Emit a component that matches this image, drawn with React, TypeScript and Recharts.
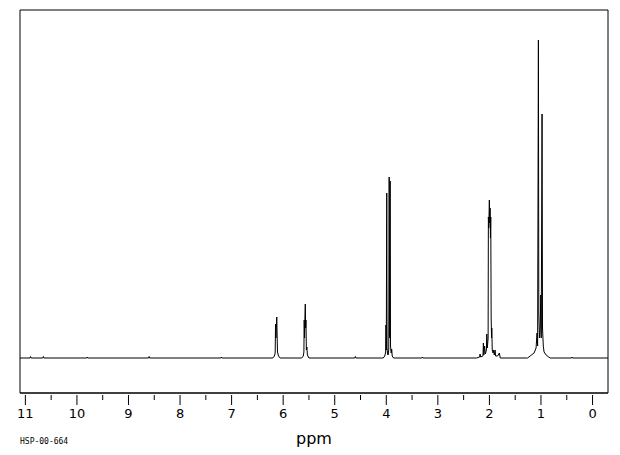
import React from "react";
import { LineChart, Line, XAxis, YAxis, Label, ReferenceArea } from "recharts";

// spectrum: [ppm, intensity], baseline = 0
const baselineEnds: [number, number][] = [[11.104, 0], [-0.3, 0]];

const noiseBlips: [number, number][] = [
  [10.91, 0], [10.9, 1.5], [10.89, 0],
  [10.66, 0], [10.65, 1.5], [10.64, 0],
  [9.81, 0], [9.8, 1], [9.79, 0],
  [8.61, 0], [8.6, 1.5], [8.59, 0],
  [7.21, 0], [7.2, 1], [7.19, 0],
  [4.61, 0], [4.6, 1.5], [4.59, 0],
  [3.31, 0], [3.3, 1], [3.29, 0],
  [0.41, 0], [0.4, 1], [0.39, 0],
];

const vinylA: [number, number][] = [
  [6.2, 0], [6.17, 2], [6.155, 5], [6.148, 34], [6.14, 20], [6.133, 30],
  [6.124, 41], [6.118, 25], [6.11, 6], [6.09, 2], [6.06, 0],
];

const vinylB: [number, number][] = [
  [5.64, 0], [5.61, 2], [5.598, 6], [5.592, 38], [5.585, 20], [5.578, 40],
  [5.571, 54], [5.565, 30], [5.558, 38], [5.55, 8], [5.54, 11], [5.53, 3], [5.5, 0],
];

const ochDoublet: [number, number][] = [
  [4.06, 0], [4.03, 2], [4.012, 6], [4.006, 33], [4.0, 8], [3.991, 165],
  [3.985, 10], [3.975, 4], [3.965, 3], [3.952, 8], [3.944, 181], [3.935, 20],
  [3.925, 177], [3.918, 12], [3.905, 5], [3.895, 9], [3.885, 2], [3.86, 0],
];

const methylCH: [number, number][] = [
  [2.25, 0], [2.19, 1], [2.181, 4], [2.17, 1], [2.125, 2], [2.117, 15],
  [2.108, 3], [2.094, 12], [2.08, 4], [2.058, 8], [2.051, 24], [2.04, 10],
  [2.025, 20], [2.02, 141], [2.012, 130], [2.001, 158], [1.994, 135],
  [1.987, 150], [1.98, 120], [1.974, 141], [1.966, 40], [1.958, 20],
  [1.954, 30], [1.945, 8], [1.93, 5], [1.92, 8], [1.905, 3], [1.89, 8],
  [1.88, 2], [1.84, 2], [1.807, 5], [1.79, 0],
];

const isoDoublet: [number, number][] = [
  [1.26, 0], [1.21, 2], [1.134, 5], [1.095, 10], [1.076, 25], [1.065, 12],
  [1.05, 318], [1.042, 45], [1.03, 20], [1.015, 30], [1.004, 63], [0.995, 20],
  [0.979, 244], [0.97, 30], [0.955, 12], [0.94, 6], [0.9, 3], [0.85, 1], [0.82, 0],
];

const tickValues = [11, 10.5, 10, 9.5, 9, 8.5, 8, 7.5, 7, 6.5, 6, 5.5, 5, 4.5, 4, 3.5, 3, 2.5, 2, 1.5, 1, 0.5, 0];

const spectrum = [
  ...baselineEnds, ...noiseBlips, ...vinylA, ...vinylB, ...ochDoublet, ...methylCH, ...isoDoublet,
]
  .map(([ppm, y]) => ({ ppm, y }))
  .sort((a, b) => b.ppm - a.ppm);

const PpmTick = (props: any) => {
  const { x, y, payload } = props;
  const v = payload.value as number;
  const major = Number.isInteger(v);
  return (
    <g>
      <line x1={x} x2={x} y1={y} y2={y + (major ? 10 : 5)} stroke="#000" strokeWidth={1} />
      {major && (
        <text x={x} y={y + 23} textAnchor="middle" fontSize={13} fontFamily="DejaVu Sans" fill="#000">
          {v}
        </text>
      )}
    </g>
  );
};

export default function App() {
  const yDomain = [-35, 348];
  const xDomain = [-0.3, 11.104];
  return (
    <div style={{ position: "absolute", left: 0, top: 0, width: 620, height: 455, background: "#fff" }}>
      <LineChart width={620} height={455} data={spectrum} margin={{ top: 10, right: 12, bottom: 0, left: 20 }}>
        <XAxis
          xAxisId="b"
          dataKey="ppm"
          type="number"
          domain={xDomain}
          allowDataOverflow
          reversed
          ticks={tickValues}
          interval={0}
          tickSize={0}
          tickLine={false}
          tick={<PpmTick />}
          height={62}
          axisLine={{ stroke: "#000" }}
        >
          <Label value="ppm" position="insideBottom" offset={11} fontSize={16} fontFamily="DejaVu Sans" fill="#000" />
        </XAxis>
        <YAxis yAxisId="l" type="number" domain={yDomain} allowDataOverflow hide />
        <ReferenceArea
          xAxisId="b"
          yAxisId="l"
          x1={xDomain[0]}
          x2={xDomain[1]}
          y1={yDomain[0]}
          y2={yDomain[1]}
          fill="none"
          stroke="#000"
          strokeWidth={1}
          ifOverflow="visible"
        />
        <Line
          xAxisId="b"
          yAxisId="l"
          type="linear"
          dataKey="y"
          stroke="#000"
          strokeWidth={1}
          dot={false}
          isAnimationActive={false}
        />
      </LineChart>
      <div
        style={{
          position: "absolute",
          left: 20,
          top: 437,
          fontSize: 8,
          fontFamily: "DejaVu Sans Mono",
          color: "#000",
          lineHeight: "10px",
        }}
      >
        HSP-00-664
      </div>
    </div>
  );
}
